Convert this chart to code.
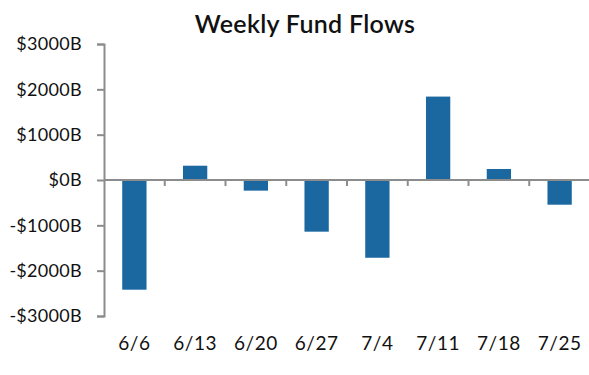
<!DOCTYPE html>
<html>
<head>
<meta charset="utf-8">
<script src="https://cdn.jsdelivr.net/npm/d3@7"></script>
<style>
  body { margin: 0; background: #fff; }
  text { font-family: Lato, "Noto Sans", sans-serif; fill: #111; }
</style>
</head>
<body>
<div id="chart"></div>
<script>
const weeks = ['6/6', '6/13', '6/20', '6/27', '7/4', '7/11', '7/18', '7/25']
const flows = [-2420, 315, -235, -1140, -1715, 1840, 243, -545]
const yTicks = [-3000, -2000, -1000, 0, 1000, 2000, 3000]

const width = 589
const height = 375
const margin = { top: 44, left: 104, right: 0, bottom: 59 }

const svg = d3
  .select('#chart')
  .append('svg')
  .attr('width', width)
  .attr('height', height)

const x = d3
  .scaleBand()
  .domain(weeks)
  .range([margin.left, width - margin.right + 1])
  .paddingInner(0.6)
  .paddingOuter(0.3)

const y = d3
  .scaleLinear()
  .domain([-3000, 3000])
  .range([height - margin.bottom, margin.top])

const axisColor = '#8c8c8c'

// title
svg
  .append('text')
  .attr('x', 305)
  .attr('y', 33)
  .attr('text-anchor', 'middle')
  .style('font-size', '25px')
  .style('font-weight', 600)
  .style('letter-spacing', '0.3px')
  .text('Weekly Fund Flows')

// bars
svg
  .selectAll('.bar')
  .data(weeks)
  .enter()
  .append('rect')
  .attr('class', 'bar')
  .attr('x', d => x(d))
  .attr('width', x.bandwidth())
  .attr('y', (d, i) => y(Math.max(0, flows[i])))
  .attr('height', (d, i) => Math.abs(y(flows[i]) - y(0)))
  .attr('fill', '#1b68a1')

// y axis
const yAxis = svg
  .append('g')
  .attr('transform', `translate(${margin.left},0)`)
  .call(
    d3
      .axisLeft(y)
      .tickValues(yTicks)
      .tickSize(7)
      .tickPadding(15)
      .tickFormat(d => (d < 0 ? '-$' : '$') + Math.abs(d) + 'B')
  )
yAxis.select('.domain').attr('stroke', axisColor).attr('stroke-width', 2)
yAxis.selectAll('.tick line').attr('stroke', axisColor).attr('stroke-width', 2)
yAxis
  .selectAll('.tick text')
  .style('font-size', '18px')
  .style('letter-spacing', '0.3px')
  .attr('fill', '#111')

// x axis at zero, ticks between the weeks
const boundaries = weeks.slice(1).map(d => x(d) - (x.step() - x.bandwidth()) / 2)

svg
  .append('line')
  .attr('x1', margin.left)
  .attr('x2', width)
  .attr('y1', y(0))
  .attr('y2', y(0))
  .attr('stroke', axisColor)
  .attr('stroke-width', 2)

svg
  .selectAll('.xtick')
  .data(boundaries)
  .enter()
  .append('line')
  .attr('class', 'xtick')
  .attr('x1', d => d)
  .attr('x2', d => d)
  .attr('y1', y(0))
  .attr('y2', y(0) + 6)
  .attr('stroke', axisColor)
  .attr('stroke-width', 2)

svg
  .selectAll('.xlabel')
  .data(weeks)
  .enter()
  .append('text')
  .attr('class', 'xlabel')
  .attr('x', d => x(d) + x.bandwidth() / 2)
  .attr('y', 350)
  .attr('text-anchor', 'middle')
  .style('font-size', '19px')
  .style('letter-spacing', '0.5px')
  .attr('fill', '#222')
  .text(d => d)
</script>
</body>
</html>
